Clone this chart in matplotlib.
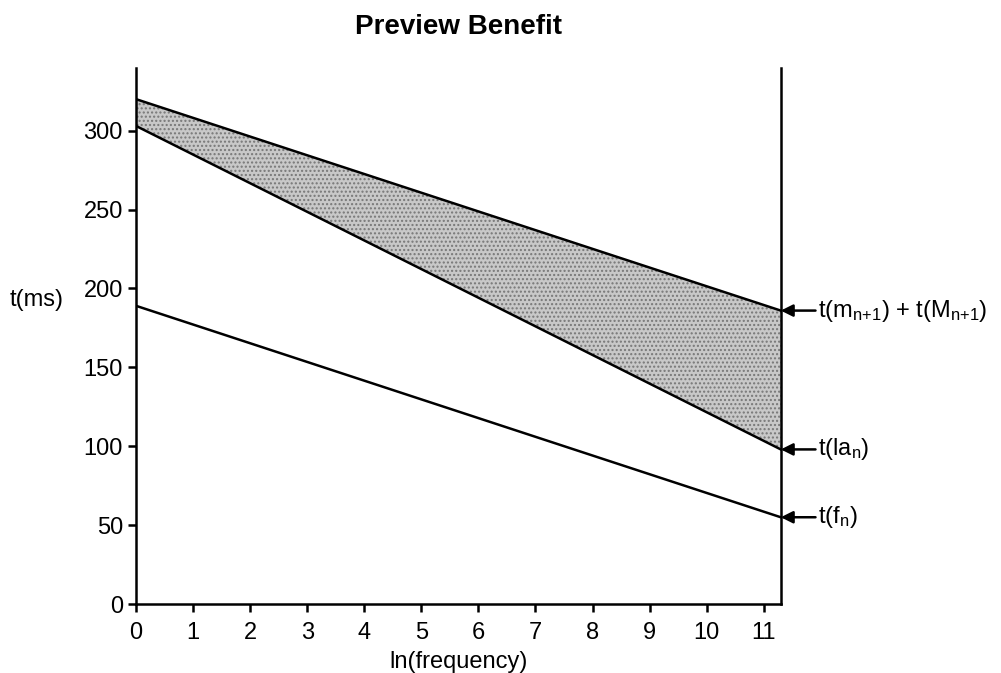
import matplotlib.pyplot as plt

plt.rcParams["font.family"] = ["Liberation Sans", "DejaVu Sans"]
plt.rcParams["mathtext.fontset"] = "custom"
plt.rcParams["mathtext.rm"] = "Liberation Sans"
plt.rcParams["mathtext.it"] = "Liberation Sans"

# line end points: value at ln(frequency) = 0 and at the right edge
x_ends = [0, 11.3]
upper = [320, 186]   # t(m_n+1) + t(M_n+1)
middle = [303, 98]   # t(la_n)
lower = [189, 55]    # t(f_n)

labels = [r"t(m$_{\mathrm{n{+}1}}$) + t(M$_{\mathrm{n{+}1}}$)",
          r"t(la$_{\mathrm{n}}$)",
          r"t(f$_{\mathrm{n}}$)"]

x_ticks = list(range(12))
y_ticks = [0, 50, 100, 150, 200, 250, 300]

fig = plt.figure(figsize=(10.01, 6.73), dpi=100)
ax = fig.add_axes([0.136, 0.1025, 0.644, 0.797])

ax.fill_between(x_ends, middle, upper, facecolor="#c8c8c8",
                edgecolor="#777777", hatch="....", linewidth=0)
for ys in (upper, middle, lower):
    ax.plot(x_ends, ys, color="black", linewidth=1.8)

ax.set_xlim(0, 11.3)
ax.set_ylim(0, 340)
ax.set_xticks(x_ticks)
ax.set_yticks(y_ticks)
ax.tick_params(direction="out", length=6, width=1.8, labelsize=17)
ax.tick_params(axis="x", pad=7)
for side in ("left", "bottom", "right"):
    ax.spines[side].set_linewidth(1.8)
ax.spines["top"].set_visible(False)

ax.set_xlabel("ln(frequency)", fontsize=17, labelpad=5)
ax.set_ylabel("t(ms)", fontsize=17, rotation=0, va="center", ha="center")
ax.yaxis.set_label_coords(-0.155, 0.567)
ax.set_title("Preview Benefit", fontsize=20, fontweight="bold", pad=24)

for ys, lab in zip((upper, middle, lower), labels):
    ax.annotate(lab, xy=(x_ends[1], ys[1]), xycoords="data",
                xytext=(27, 0), textcoords="offset points", fontsize=17,
                va="center", ha="left", annotation_clip=False,
                arrowprops=dict(arrowstyle="-|>", color="black", lw=1.8,
                                mutation_scale=18, shrinkA=0, shrinkB=0))

fig.savefig("out.png", dpi=100)
